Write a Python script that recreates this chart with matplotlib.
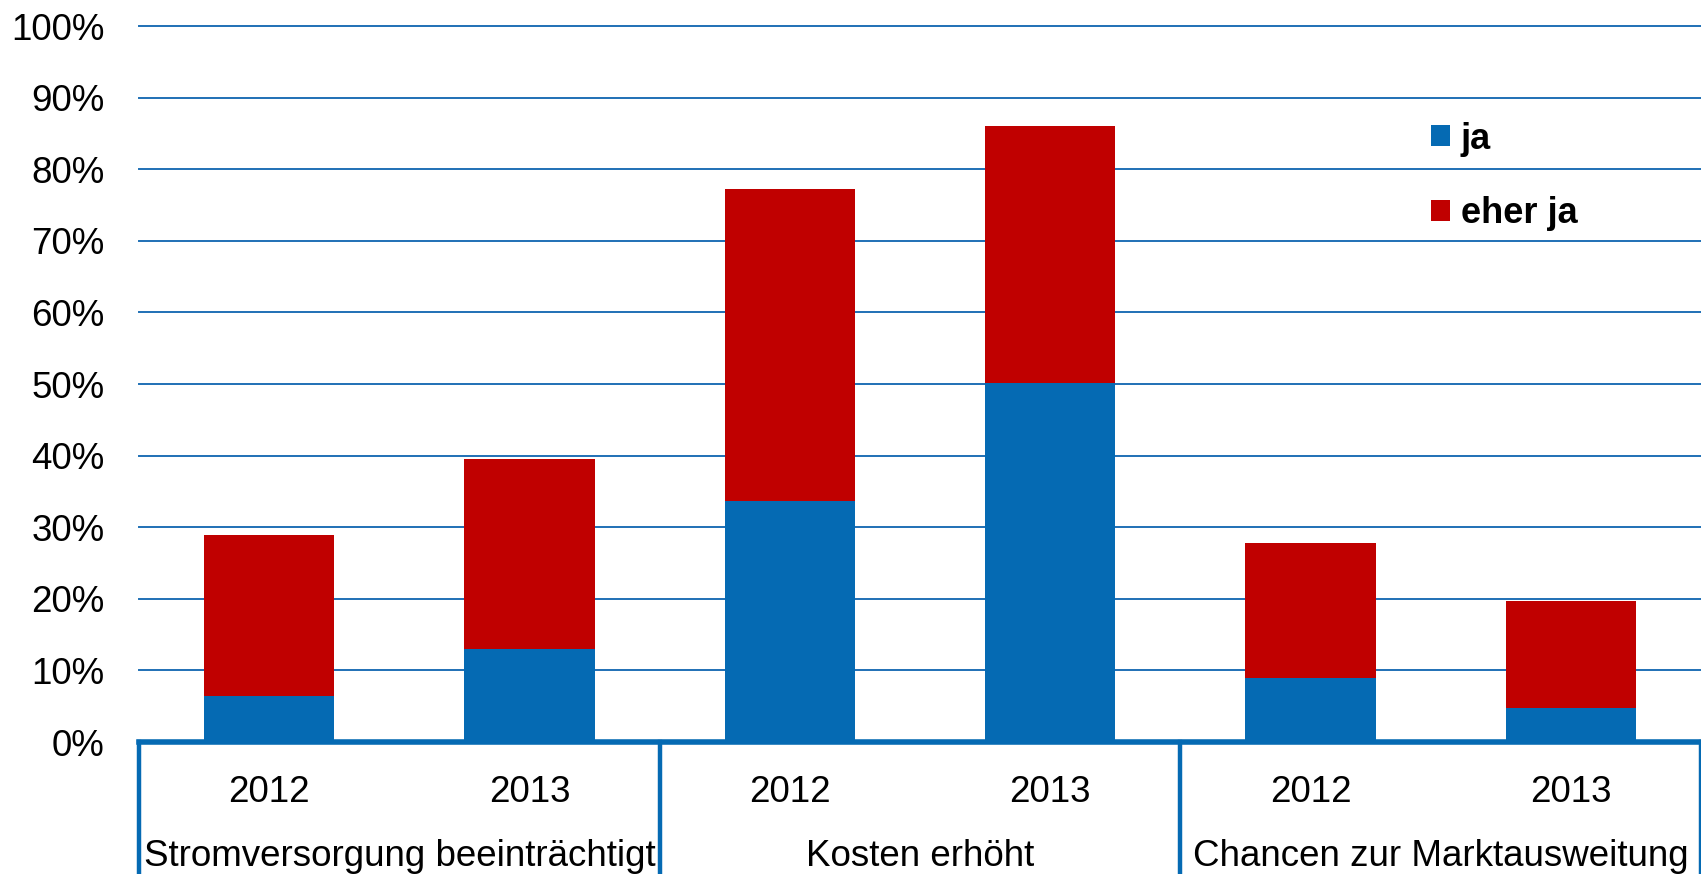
import matplotlib.pyplot as plt
import matplotlib.transforms as mtransforms
import numpy as np

plt.rcParams['font.family'] = ['Liberation Sans', 'DejaVu Sans']

# Daten
jahre = ['2012', '2013', '2012', '2013', '2012', '2013']
kategorien = ['Stromversorgung beeinträchtigt', 'Kosten erhöht', 'Chancen zur Marktausweitung']
ja = [6.4, 13.0, 33.7, 50.2, 8.9, 4.7]
eher_ja = [22.5, 26.5, 43.6, 35.9, 18.9, 15.0]

blau = '#056AB3'
rot = '#C00000'
linie = '#1F70B5'

fig = plt.figure(figsize=(17.01, 8.74), dpi=100)
ax = fig.add_axes([139 / 1701, 1 - 742 / 874, 1 - 139 / 1701, (742 - 26) / 874])

x = np.arange(len(jahre))
ax.bar(x, ja, width=0.5, color=blau, label='ja', zorder=2)
ax.bar(x, eher_ja, width=0.5, bottom=ja, color=rot, label='eher ja', zorder=2)

ax.set_xlim(-0.5, 5.5)
ax.set_ylim(0, 100)
ax.set_yticks(np.arange(0, 101, 10))
ax.set_yticklabels([f'{v}%' for v in range(0, 101, 10)], fontsize=26.5)
ax.yaxis.grid(True, color=linie, linewidth=1.4, zorder=0)
for gl in ax.get_ygridlines():
    gl.set_clip_on(False)
ax.tick_params(axis='y', length=0, pad=25)

ax.set_xticks(x)
ax.set_xticklabels(jahre, fontsize=26.5)
ax.tick_params(axis='x', length=0, pad=24)

for s in ['top', 'right', 'left']:
    ax.spines[s].set_visible(False)
ax.spines['bottom'].set_color(blau)
ax.spines['bottom'].set_linewidth(4)
ax.spines['bottom'].set_zorder(3)

# Kategorie-Achse unten
trans = mtransforms.blended_transform_factory(ax.transData, ax.transAxes)
for sep in [-0.5, 1.5, 3.5, 5.5]:
    ax.plot([sep, sep], [0, -0.2], color=blau, linewidth=3.2, transform=trans, clip_on=False)
for i, name in enumerate(kategorien):
    ax.text(2 * i + 0.5, -0.16, name, transform=trans, ha='center', va='center', fontsize=26.5)

# Legende
leg = ax.legend(loc='upper left', bbox_to_anchor=(0.8065, 0.912), frameon=False,
                prop={'weight': 'bold', 'size': 26}, handlelength=0.52, handleheight=0.52,
                handletextpad=0.3, labelspacing=1.1)

fig.savefig('out.png', dpi=100)
